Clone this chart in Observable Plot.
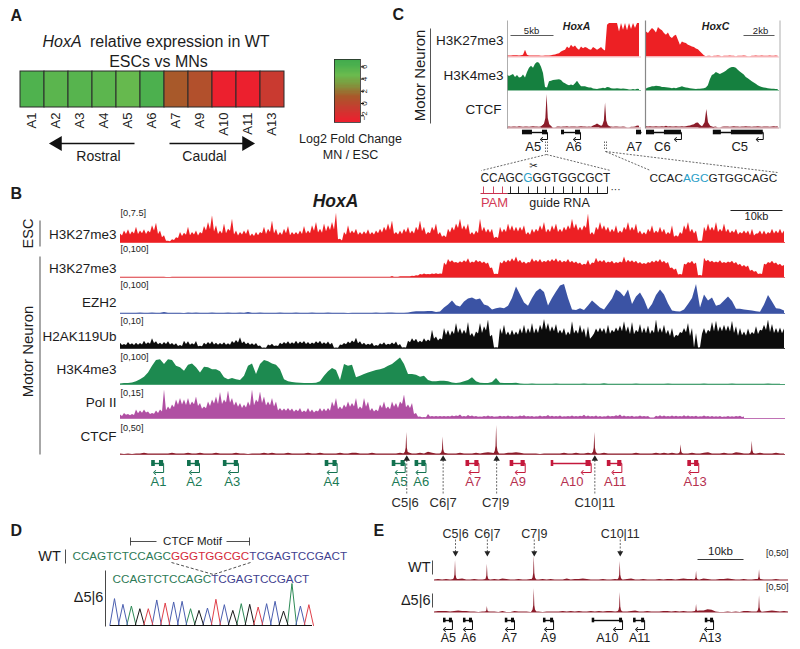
<!DOCTYPE html>
<html><head><meta charset="utf-8">
<style>html,body{margin:0;padding:0;background:#fff}#root{position:relative;width:800px;height:649px;overflow:hidden;background:#fff}#root svg{position:absolute;background:none;max-width:none;overflow:visible}</style>
<script src="https://cdn.jsdelivr.net/npm/d3@7"></script>
<script src="https://cdn.jsdelivr.net/npm/@observablehq/plot@0.6"></script>
</head><body><div id="root"></div>
<script>
// ---------- DATA: panel A ----------
const hoxGenes=["A1","A2","A3","A4","A5","A6","A7","A9","A10","A11","A13"];
const log2FC=[5.9,5.3,5.5,5.2,4.7,6.1,1,0.4,-3,-3,-1];
const colorStops=[-3.1,-1,1,3,4.5,6,7.2];
const colorRange=["#ee1f2e","#c93a30","#a8592a","#7e9a3f","#6aba4e","#4db14e","#3faa4d"];
const legendTicks=[-2,0,2,4,6];
// ---------- DATA: panel B signal: peaks (one sample every 0.77 kb) and the troughs between them ----------
const escK27=[2.1,2.9,3.2,2.7,3.8,2.9,3.2,2.9,4.2,4.8,2.9,1.7,0.3,0.7,1.2,2.5,2.3,3.8,2.5,2.9,2.5,4,5,6.7,4.2,2.9,4.6,3.3,5.8,2.9,2.5,2.9,3.3,2.1,2.5,2.5,3.8,3.3,5.4,3.3,2.5,3.3,4,2.5,2.5,2.9,4,2.9,4.2,5,3.3,4.6,4.2,5,7.3,0.8,2.5,4.2,2.9,3.3,2.5,2.7,3.2,2.5,2.9,3.3,3.8,4.6,5.4,2.5,
2.9,3.3,3.8,2.9,3.8,5.4,3.8,2.5,3.8,4.6,2.5,1.7,3.3,3.8,4.6,5.8,4.2,4.6,2.5,2.9,5.8,3.8,3.3,3.3,1.3,3.8,3.3,4.6,4.2,3.8,3.8,4.2,2.5,3.3,3.3,4.2,5,3.3,4.2,4.6,3.3,3.8,4.2,5.8,4.6,3.8,4.2,7.1,2.5,3.8,5,4.2,3.8,3.3,4.2,2.9,3.8,5,3.8,4.6,2.9,2.5,3.3,4.2,2.9,3.8,3.3,2.5,4.2,1.7,2.5,4.2,5,3.3,2.9,0.3,3.8,4.6,3.8,5,3.3,4.6,3.3,2.9,3.3,2.5,2.9,2.9,3.3,2.1,2.9,2.9,2.5,3.3,2.9,3.3,2.9];
const escK27Troughs=[1.6,2,1.9,2.1,2,2.2,2,2.4,2.9,2,1.2,.3,.2,.5,1,1.5,1.8,1.7,1.9,1.6,2.1,2.9,3.2,2.6,2,2.1,2.2,2.8,1.9,1.6,1.9,2,1.5,1.5,1.7,2.2,2,2.5,2.1,1.7,
1.8,2.2,1.7,1.9,1.9,2,2.1,2.2,2.8,2.4,2.3,2.7,3,3.1,.7,.4,1.8,2.1,2.2,1.8,1.9,2,1.9,1.9,2.2,2.4,2.8,3,2,1.9,
2,2.4,2.1,2.1,2.9,2.7,1.9,2.2,2.8,1.9,1.3,1.2,2.4,2.9,3.5,3.1,3,1.9,1.8,2.2,2.7,2.4,2.3,1,1,2.4,2.5,2.9,2.7,2.6,2.8,1.9,1.8,2.3,2.6,3,2.4,2.5,3,2.5,2.5,2.9,3.2,3.4,2.9,2.9,3.5,1.9,1.8,3,3.1,2.8,2.4,2.5,2.2,2.3,3,2.8,2.9,2.1,1.9,1.9,2.5,2.2,2.3,2.4,1.9,2,1.3,1.3,2,3,2.5,2.1,.3,.3,2.6,2.9,2.8,2.5,2.6,2.5,2.2,2.3,1.9,2.1,2.1,1.7,1.6,2.1,1.9,1.9,2.1,2.1,2.2,2.1];
const mnK27=[1,1,1,1,1,1,1,1,1,1,1,1,0,1,1,1,1,1,1,1,1,1,1,1,1,1,1,1,1,1,1,1,1,1,1,1,1,1,1,1,1,1,1,1,1,1,1,1,1,1,1,1,1,1,1,1,1,1,1,1,1,1,1,1,1,1,1,1,4,1,
3,3,3,5,7,13,15,12,15,16,15,60,75,70,62,66,70,78,65,72,68,65,60,40,14,62,70,72,78,85,72,65,62,78,72,75,68,72,75,78,72,68,75,68,65,60,55,72,60,80,70,72,65,68,62,65,85,72,70,68,62,58,62,68,70,75,68,62,40,35,12,55,62,68,60,8,80,72,68,65,70,62,65,68,62,55,50,48,30,25,15,55,62,68,60,55,50];
const mnK27Troughs=[1,1,1,1,1,1,1,1,1,1,1,0,0,1,1,1,1,1,1,1,1,1,1,1,1,1,1,1,1,1,1,1,1,1,1,1,1,1,1,1,1,1,1,1,1,1,1,1,1,1,1,1,1,1,1,1,1,1,1,1,1,1,1,1,1,1,1,1,1,1,
3,3,3,4,6,10,11,11,13,13,14,50,62,60,58,60,62,58,60,62,58,55,38,12,12,56,60,64,66,62,58,55,60,64,62,60,62,64,66,62,60,62,60,58,55,50,52,50,58,62,62,58,60,56,58,60,60,62,60,56,54,54,58,60,62,60,56,38,30,10,10,52,58,54,7,6,66,62,60,60,58,58,60,56,50,44,42,26,22,13,12,52,58,56,50,46];
const ezh2=[1,1,1,1,1,2,1,1,2,1,1,3,1,1,1,1,0,2,1,2,1,1,1,2,1,1,1,2,1,1,2,1,3,1,1,2,1,1,1,1,2,1,1,1,2,1,1,1,2,1,1,1,2,1,1,1,1,0,1,1,1,1,1,1,2,1,1,2,2,1,
1,1,2,4,6,6,6,7,7,3,5,18,28,42,26,22,38,48,52,45,48,28,24,12,16,18,16,24,50,88,62,35,24,50,72,82,70,25,50,72,92,97,50,12,10,16,10,25,42,30,18,12,30,48,78,70,55,78,30,55,68,45,12,30,60,78,62,32,8,6,5,12,30,50,97,18,62,42,52,24,28,42,55,40,14,14,12,10,8,6,4,28,60,38,16,14,8];
const h2ak=[1.8,1.4,2.1,1.6,1.8,1.7,2.5,2,3.4,2.3,1.8,2.1,2.3,1.7,1.6,1,2.5,2.3,1.6,2.4,0.8,1.8,2.1,2.3,1.8,1.7,2,1.6,2.4,2.8,3.7,2.3,1.9,1.6,1.7,0.9,0.2,1.2,1.5,0.9,1.8,2.1,2.3,2,2.5,2.2,2.4,2.1,1.9,2.3,2.5,2,2.2,1.8,0.2,1.2,1.7,2.2,2.6,3.5,2.3,1.8,1.5,1.8,1,1.6,2,1.5,1.9,2.2,
1.4,.3,2.5,3.4,3.2,2.5,3.4,2.9,6.3,4,3.4,6.9,6.3,6,8.6,6.9,6.3,9,5.2,5.7,8.6,7.5,9.8,4.6,.3,6.9,8,5.7,6.3,5.7,6.9,8,6.9,8.6,6.9,8,10,8.6,7.5,8.3,6.3,6.9,5.7,9.2,6.3,8,6.9,7.5,4,6.7,7.1,6.9,8,6.3,7.1,7.8,9.2,7.5,9,6.3,8.3,7.1,7.8,6.3,9.8,7.1,8,6.3,6.9,4.6,5.5,6.9,8.6,6.9,5.2,.3,6.9,6.3,9,9.4,7.5,8,7.8,9.4,7.5,6.9,5.7,6.7,5.5,7.5,6.3,8,9.8,8.3,6.9,7.1,6.7];
const h2akTroughs=[1,1,1.2,1,1.1,1.2,1.4,1.5,1.7,1.3,1.2,1.4,1.2,1,.7,.7,1.4,1.1,1.2,.6,.6,1.2,1.4,1.2,1.1,1.2,1.1,1.1,1.7,1.9,1.6,1.3,1.1,1,.7,.1,.1,.9,.7,.7,1.3,1.5,1.4,1.5,1.5,1.6,1.4,1.3,1.5,1.6,1.4,1.4,1.2,.1,.1,1,1.3,1.6,2,1.6,1.2,1,1.1,.7,.8,1.2,1,1.2,1.3,.9,
.2,.2,2,2.3,1.9,2,2.2,2.4,3.2,2.6,2.9,4.5,4.2,4.8,5.2,4.8,4.9,4.2,3.8,5,5.2,6,4,.2,.2,4.8,4.5,4.3,4.5,4.6,5,4.9,5.2,5,5.2,6.2,6.3,5.6,5.8,5,5,4.3,4.6,5,4.9,5.2,3.5,3.2,5,5.4,5.5,4.8,4.9,5.4,5.8,5.8,5.6,4.8,4.7,5.4,5.1,5.1,4.8,5.2,5.3,5.3,4.8,4.1,3.5,4.1,5.2,5.4,4.1,.2,.2,4.9,4.8,5.6,5.8,5.6,5.8,5.9,5.7,5.2,4.2,4.4,4.2,4.6,4.8,4.8,6,6.2,5.5,5.2,5.2,5.1];
const k4me3=[2,4,4,6,10,18,27,43,68,89,92,74,92,89,68,62,49,71,76,62,43,64,62,55,55,47,25,18,22,18,15,31,68,76,37,74,89,84,76,71,55,18,10,7,6,5,4,4,4,5,10,31,47,59,52,15,74,68,71,25,31,37,43,47,52,55,59,68,74,86,
98,74,37,37,34,27,31,15,10,10,12,12,10,6,4,6,10,15,25,10,5,4,4,7,22,5,4,4,4,5,2,1,1,2,1,1,1,1,1,2,1,1,1,1,1,1,2,1,1,1,1,3,1,1,1,1,1,1,1,2,1,1,1,1,1,1,1,2,1,1,1,1,1,1,1,1,2,1,1,1,1,1,1,2,1,1,1,1,1,1,1,1,2,1,1,1];
const polII=[1.7,2.5,2,2,4.2,3.7,4.2,3.3,2.5,3.7,4.2,14.2,5.8,6.7,9.2,10,9.2,10,8.3,10.8,7.5,5.8,8.3,9.2,10.8,13,9.2,13.7,10,8.3,7.5,6.7,8.3,14.2,9.2,13.3,10.8,8.3,10,8.3,5,4.7,5,4.7,4.2,5,3.7,5,4.2,3.7,5,4.7,5,8.3,10,5.8,6.7,8.3,7.5,10,5.8,10,8.3,5,4.2,6.7,8.3,5.8,8.3,7.5,
8.3,11.7,6.7,7.5,2.5,.8,.5,2,1,1,1,1,1,1.2,1.3,1.7,1,1.5,1.2,1,.8,1,1.2,1,.8,1.1,1,1.3,1,.9,1.2,1.4,1,1,.9,1.3,1,1.5,1.1,1,1.2,.9,1,1.3,1,1.1,1.6,1.2,1,1.3,1,.9,1.2,1,1.4,1.7,1.2,1,1.1,.9,1.3,1,1,.3,1.1,1.4,1.2,1,1.3,1.1,1,1.4,1.2,1,1.1,.9,1.2,1,1,.9,1,.8,1,.9,1,1.1,.8];
const polIITroughs=[1,1.6,1.4,1.5,2.4,2.6,2.7,2,2.1,2.5,3.2,3.9,4.4,5.4,6.6,6.8,6.5,6.4,6.9,6,4.6,4.9,6,7.2,7,7,7.8,7.6,6.2,5.6,5,5.3,6,6.4,7.9,7.5,6.2,6.4,5.8,3.8,3.6,3.6,3.6,3.1,3.4,2.9,3,3,2.8,3.2,3.3,3.4,3.6,5.8,4.4,4.4,5.2,5.6,5.8,4.4,4.6,5.6,3.6,3.2,3.4,5,4.6,4.4,5.6,5,
7,5.4,5,2,.6,.4,.4,.7,.7,.7,.7,.8,.8,.9,1,.7,.8,.9,.7,.6,.6,.8,.7,.6,.7,.8,.8,.7,.6,.8,.9,.7,.7,.6,.8,.7,.9,.8,.7,.8,.6,.7,.8,.7,.8,.9,.8,.7,.8,.6,.6,.8,.7,.9,1,.8,.7,.7,.6,.8,.7,.7,.2,.2,.8,.8,.7,.8,.8,.7,.8,.8,.7,.7,.6,.7,.7,.6,.6,.6,.5,.6,.6,.6,.7,.5];
const ctcfB=[1,0,1,0,1,1,2,1,1,1,1,1,1,2,1,1,1,2,1,1,2,1,1,1,2,1,1,1,1,2,1,1,0,1,1,1,2,1,2,1,1,1,2,1,1,1,1,2,1,1,2,1,1,1,1,2,1,1,2,2,1,1,1,2,1,1,1,1,1,1,
2,1,3,1,1,2,1,4,2,1,1,2,1,1,1,2,1,1,1,2,1,2,3,2,1,1,1,2,2,3,2,1,1,1,1,0,1,1,1,1,1,2,1,1,2,1,1,2,1,1,1,2,1,1,1,1,1,1,1,2,1,1,1,1,2,1,2,1,2,1,1,1,1,2,1,1,2,3,1,1,1,2,1,1,3,2,1,1,1,1,2,1,1,1,2,1,1];
const ctcfBPeakKb=[55.1,62.1,72.4,91.3,107.9,121.6];
const ctcfBPeakVal=[38,30,50,38,17,23];
// ---------- DATA: panel B genes ----------
const bGeneNames=["A1","A2","A3","A4","A5","A6","A7","A9","A10","A11","A13"];
const bGeneStart=[6,12.9,19.8,39.4,52.3,56.7,66.5,75,82.9,93.7,109.2];
const bGeneEnd=[8.3,15.2,22.7,41.7,54.8,58.8,69,77.9,90.6,96.5,111.3];
const bGeneLabel=[7.3,14.2,21.5,40.6,53.7,57.9,67.9,76.5,86.9,95.2,110.6];
const bSiteNames=["C5|6","C6|7","C7|9","C10|11"];
const bSiteKb=[55.1,62.1,72.4,91.3];
const bSiteLabelKb=[54.8,62.1,72.2,91.3];
// ---------- DATA: panel C signal (one sample every 2 px of each locus) ----------
const cK27A=[3,3,3,4,4,4,3,4,5,20,5,3,3,3,3,3,3,2,2,3,3,3,4,5,6,8,10,15,18,20,30,25,35,28,33,25,20,30,25,28,26,22,20,28,25,20,24,28,22,18,95,100,100,100,100,100,75,100,80,100,78,100,82,100,85,100,100];
const cK27C=[75,70,78,85,80,72,88,82,78,70,65,72,60,55,62,65,50,35,45,42,40,35,33,30,28,24,22,16,10,4,1,2,2,1,2,2,3,2,1,2,2,2,3,2,2,1,2,2,2,3,2,1,1,2,2,3,2,2,3,2,2,2,3,2,2,3,2];
const cK4A=[50,45,48,52,42,48,40,42,50,40,58,72,78,72,85,90,88,75,55,10,8,28,30,32,33,34,35,32,25,22,18,15,18,15,22,30,20,12,12,12,10,8,8,5,4,3,5,6,7,6,10,9,6,5,5,6,5,4,5,4,3,2,2,3,2,4,3];
const cK4C=[5,8,10,12,12,14,13,12,10,10,9,8,7,6,7,6,8,10,12,10,8,7,6,5,4,3,4,4,5,6,8,15,35,48,52,58,55,52,55,58,62,68,72,74,74,72,65,60,55,50,42,38,33,28,24,20,15,12,10,8,7,6,5,4,4,3,3];
const cCtcfA=[2,3,2,3,3,2,4,3,2,3,3,2,3,4,3,3,2,4,8,15,9,3,2,0,0,3,3,2,3,3,4,2,3,3,3,2,3,4,3,3,2,3,2,6,8,12,8,5,3,3,2,3,3,2,3,3,2,2,3,2,0,0,2,2,3,6,5];
const cCtcfC=[4,3,4,3,3,4,3,3,4,3,5,3,4,3,3,4,3,3,4,3,4,5,6,8,10,14,15,8,4,3,3,2,0,0,2,3,0,0,2,3,3,3,2,3,4,3,3,2,3,3,4,3,3,2,3,3,4,3,2,3,3,3,2,3,4,3,4];
const cPeakAKb=[4.6,11.4],cPeakAVal=[100,75];
const cPeakCKb=[3.9],cPeakCVal=[55];
const cNamesA=["A5","A6","A7"],cStartA=[1.74,6.28,15],cEndA=[4.65,8.49,15.58],cExonLA=[1.16,.35,.58],cExonRA=[.58,.58,0],cLabelA=[3,7.7,14.75];
const cNamesC=["C6","C5"],cStartC=[0,4.32],cEndC=[2.26,7.55],cExonLC=[.52,.52],cExonRC=[1.1,2.06],cLabelC=[1.03,6.03];
// ---------- DATA: panel D ----------
const seqGreen="CCAGTCTCCAGC",seqRed="GGGTGGCGC",seqNavy="TCGAGTCCGACT";
const chromBases="CCAGTCTCCAGCTCGAGTCCGACT".split("");
const chromHeights=[80,63,58,50,50,76,67,70,72,50,45,52,78,62,45,65,63,55,65,72,43,125,58,62];
const baseColors={A:"#2e8b57",C:"#4b5fb0",G:"#1a1a1a",T:"#e0404a"};
// ---------- DATA: panel E (one sample every 0.87 kb) ----------
const eWT=[1,2,1,2,1,2,2,3,1,1,2,1,1,2,1,2,1,3,2,1,1,2,1,1,2,1,1,2,1,2,1,1,1,3,1,2,2,3,2,1,1,1,2,1,1,2,1,1,2,3,1,1,2,1,1,1,2,1,2,2,1,2,3,2,2,1,1,3,2,1,1,2,2,3,2,1,1,2,1,1,2,2,1,1,1,2,1,1,1];
const eDel=[1,2,2,2,1,2,3,2,2,1,1,0,1,1,1,1,0,2,0,0,2,1,1,1,0,1,1,0,1,1,1,1,2,1,2,1,2,1,1,2,1,2,1,2,2,1,2,1,1,2,3,1,1,2,1,1,1,2,2,1,2,1,2,1,1,2,3,3,5,4,1,0,0,1,0,1,0,2,2,1,1,0,1,2,3,2,1,2,1];
const ePeakKb=[4.57,11.5,21.7,40.4,57,70.7];
const eWTPeak=[37,30,46,35,17,20];
const eDelPeak=[0,11,44,37,15,31];
const eSites=["C5|6","C6|7","C7|9","C10|11"];
const eSiteKb=[4.57,11.5,21.7,40.4];
const eGeneNames=["A5","A6","A7","A9","A10","A11","A13"];
const eGeneStart=[1.96,6.3,15.4,23.7,34.3,43.3,58.9];
const eGeneEnd=[3.9,8.26,17.4,25.9,40.9,45.7,60.7];
const eGeneLabel=[3,7.4,16.3,24.8,37.6,44.6,60];

// ---------- helpers ----------
const FONT="'Liberation Sans',Arial,sans-serif";
const root=document.getElementById("root");
function put(opts,left,top){
  const el=Plot.plot({style:{fontFamily:FONT,background:"none",overflow:"visible"},...opts});
  el.style.position="absolute";el.style.left=left+"px";el.style.top=top+"px";
  el.style.maxWidth="none";
  root.appendChild(el);
}
function track({left,baseline,width,height,values,troughs=[],step,max,color,line,lineW=1,peakKb=[],peakVal=[],peakW=.8,kbMax}){
  const rows=values.flatMap((v,i)=>{
    const r=[{k:i*step,v}];
    if(troughs[i]!==undefined&&i<values.length-1)r.push({k:(i+.5)*step,v:troughs[i]});
    return r;});
  const peaks=peakKb.flatMap((p,j)=>{const h=peakVal[j];if(!h)return [];return [
    {k:p-peakW,v:0,z:j},{k:p-peakW*.45,v:h*.1,z:j},{k:p-peakW*.2,v:h*.28,z:j},{k:p,v:h,z:j},{k:p+peakW*.2,v:h*.28,z:j},{k:p+peakW*.45,v:h*.1,z:j},{k:p+peakW,v:0,z:j}];});
  put({width,height,margin:0,
    x:{domain:[0,kbMax??(values.length-1)*step],axis:null},
    y:{domain:[0,max],axis:null},
    marks:[
      Plot.areaY(rows,{x:"k",y:"v",fill:color,clip:true}),
      Plot.areaY(peaks,{x:"k",y:"v",z:"z",fill:color}),
      Plot.ruleY([0],{stroke:line||color,strokeWidth:lineW,strokeOpacity:.8})
    ]},left,baseline-height);
}
function genes({left,width,kbMax,top,height,list,geneY,half,arrowDY,arrowPx,labelY,labelSize,extra=[]}){
  const k=kbMax/width;
  put({width,height,margin:0,x:{domain:[0,kbMax],axis:null},y:{domain:[top,top+height],range:[0,height],axis:null},
   marks:[
    ...list.flatMap(g=>[
      Plot.link([g],{x1:"s",x2:"e",y1:()=>geneY,y2:()=>geneY,stroke:g.c,strokeWidth:1.4}),
      Plot.rect([g],{x1:"s",x2:d=>d.s+d.el,y1:()=>geneY-half,y2:()=>geneY+half,fill:g.c}),
      ...(g.er?[Plot.rect([g],{x1:d=>d.e-d.er,x2:"e",y1:()=>geneY-half,y2:()=>geneY+half,fill:g.c}),
        Plot.link([g],{x1:"e",x2:"e",y1:()=>geneY,y2:()=>geneY+arrowDY,stroke:g.c,strokeWidth:1}),
        Plot.link([g],{x1:"e",x2:d=>d.e-arrowPx*k,y1:()=>geneY+arrowDY,y2:()=>geneY+arrowDY,stroke:g.c,strokeWidth:1,markerEnd:"arrow"})]:[]),
      Plot.text([g],{x:"l",y:()=>labelY,text:"n",fill:g.lc,fontSize:labelSize})
    ]),
    ...extra
   ]},left,top);
}
const ctx=document.createElement("canvas").getContext("2d");
function seqMarks(segs,x0,x1,y,size){
  const full=segs.map(s=>s.t).join("");
  ctx.font=`${size}px 'Liberation Sans'`;
  const s=size*(x1-x0)/ctx.measureText(full).width;
  ctx.font=`${s}px 'Liberation Sans'`;
  let pre="";
  return segs.map(g=>{const px=x0+ctx.measureText(pre).width;pre+=g.t;return Plot.text([g],{x:()=>px,y:()=>y,text:"t",fill:g.c,fontSize:s,textAnchor:"start"});});
}

// ---------- panel A ----------
const colorOpts={type:"linear",domain:colorStops,range:colorRange,interpolate:"rgb"};
put({width:267,height:60,marginTop:0,marginLeft:0,marginRight:0,marginBottom:24,
  x:{domain:hoxGenes,padding:0,label:null},color:colorOpts,
  marks:[
    Plot.cell(hoxGenes.map((g,i)=>({g,v:log2FC[i]})),{x:"g",fill:"v",stroke:"#2a2a2a",strokeWidth:1}),
    Plot.axisX({tickRotate:-90,tickSize:0,tickPadding:5,fontSize:13,label:null,fill:"#222",dx:-1})
  ]},18,71);
const levels=d3.range(-3.1,7.2,.2);
put({width:52,height:63,marginTop:0,marginBottom:0,marginLeft:0,marginRight:26,
  x:{domain:[0,1],axis:null},y:{domain:[-3.1,7.2]},color:colorOpts,
  marks:[
    Plot.rect(levels,{x1:0,x2:1,y1:d=>d,y2:d=>Math.min(d+.32,7.2),fill:d=>d,shapeRendering:"crispEdges"}),
    Plot.frame({stroke:"#2a2a2a",strokeWidth:.8}),
    Plot.axisY({anchor:"right",ticks:legendTicks,tickSize:3,tickRotate:-90,tickPadding:3,fontSize:8,label:null,fill:"#222"})
  ]},334,59);

// ---------- panel B tracks ----------
const KB=128/665*4; // kb per sample
const bw=665;
track({left:120,baseline:242,width:bw,height:30,values:escK27,troughs:escK27Troughs,step:KB,max:7.5,color:"#ed2024",kbMax:128});
track({left:120,baseline:277,width:bw,height:24,values:mnK27,troughs:mnK27Troughs,step:KB,max:100,color:"#ed2024",line:"#d9434a",kbMax:128});
track({left:120,baseline:313,width:bw,height:30,values:ezh2,step:KB,max:100,color:"#3b53a4",kbMax:128});
track({left:120,baseline:348,width:bw,height:29,values:h2ak,troughs:h2akTroughs,step:KB,max:10,color:"#0c0c0c",kbMax:128});
track({left:120,baseline:383.5,width:bw,height:27,values:k4me3,step:KB,max:100,color:"#1d8a50",kbMax:128});
track({left:120,baseline:418,width:bw,height:30,values:polII,troughs:polIITroughs,step:KB,max:15,color:"#b04fa3",kbMax:128});
track({left:120,baseline:454,width:bw,height:29,values:ctcfB,step:KB,max:50,color:"#8c1c2a",peakKb:ctcfBPeakKb,peakVal:ctcfBPeakVal,peakW:.6,kbMax:128});
const GREEN="#12714f",RED="#c4183c";
genes({left:120,width:bw,kbMax:128,top:455,height:55,geneY:463,half:3,arrowDY:9,arrowPx:9,labelY:481,labelSize:13,
  list:bGeneNames.map((n,i)=>({n,s:bGeneStart[i],e:bGeneEnd[i],el:n==="A10"?.5:.7,er:n==="A10"?1:.8,l:bGeneLabel[i],c:i<6?GREEN:RED,lc:i<6?"#1b7a55":"#b6304f"})),
  extra:[
    Plot.ruleX(bSiteKb,{x:d=>d,y1:()=>460,y2:()=>494,stroke:"#444",strokeWidth:.8,strokeDasharray:"2,1.5"}),
    Plot.dot(bSiteKb,{x:d=>d,y:()=>458.5,symbol:"triangle",r:2.4,fill:"#222"}),
    Plot.text(bSiteNames,{x:(d,i)=>bSiteLabelKb[i],y:()=>502,text:d=>d,fontSize:13,fill:"#2a2a2a"})
  ]});

// ---------- panel C tracks ----------
const stepA=2/8.6,stepC=2/15.5;
track({left:507,baseline:56.5,width:134,height:33.5,values:cK27A,step:stepA,max:100,color:"#ed2024",line:"#e8747a",lineW:.6,kbMax:15.58});
track({left:646,baseline:56.5,width:133,height:33.5,values:cK27C,step:stepC,max:100,color:"#ed2024",line:"#e8747a",lineW:.6,kbMax:8.6});
track({left:507,baseline:90,width:134,height:31,values:cK4A,step:stepA,max:100,color:"#15803f",lineW:.6,kbMax:15.58});
track({left:646,baseline:90,width:133,height:31,values:cK4C,step:stepC,max:100,color:"#15803f",lineW:.6,kbMax:8.6});
track({left:507,baseline:127,width:134,height:33.5,values:cCtcfA,step:stepA,max:100,color:"#8c1c2a",lineW:.6,peakKb:cPeakAKb,peakVal:cPeakAVal,peakW:.7,kbMax:15.58});
track({left:646,baseline:127,width:133,height:33.5,values:cCtcfC,step:stepC,max:100,color:"#8c1c2a",lineW:.6,peakKb:cPeakCKb,peakVal:cPeakCVal,peakW:.55,kbMax:8.6});
genes({left:507,width:134,kbMax:15.58,top:126,height:28,geneY:132,half:2.3,arrowDY:7,arrowPx:6,labelY:146,labelSize:13,
  list:cNamesA.map((n,i)=>({n,s:cStartA[i],e:cEndA[i],el:cExonLA[i],er:cExonRA[i],l:cLabelA[i],c:"#0c0c0c",lc:"#1a1a1a"}))});
genes({left:646,width:133,kbMax:8.6,top:126,height:28,geneY:132,half:2.3,arrowDY:7,arrowPx:6,labelY:146,labelSize:13,
  list:cNamesC.map((n,i)=>({n,s:cStartC[i],e:cEndC[i],el:cExonLC[i],er:cExonRC[i],l:cLabelC[i],c:"#0c0c0c",lc:"#1a1a1a"}))});

// ---------- panel D chromatogram ----------
const peakHalf=.55;
const chromRows=chromBases.flatMap((b,i)=>[{i:i-peakHalf,h:0,id:i,b},{i,h:chromHeights[i],id:i,b},{i:i+peakHalf,h:0,id:i,b}]);
put({width:202,height:42,margin:0,x:{domain:[-.473,23.43],axis:null},y:{domain:[0,125],axis:null},
  marks:[
    ...Object.keys(baseColors).map(b=>Plot.line(chromRows.filter(d=>d.b===b),{x:"i",y:"h",z:"id",stroke:baseColors[b],strokeWidth:1})),
    Plot.ruleY([0],{stroke:"#111",strokeWidth:1})
  ]},110,583);

// ---------- panel E ----------
const eStep=77/88;
track({left:434,baseline:580,width:354,height:27,values:eWT,step:eStep,max:50,color:"#8c1c2a",lineW:.6,peakKb:ePeakKb,peakVal:eWTPeak,peakW:.6,kbMax:77});
track({left:434,baseline:612,width:354,height:27,values:eDel,step:eStep,max:50,color:"#8c1c2a",lineW:.6,peakKb:ePeakKb,peakVal:eDelPeak,peakW:.6,kbMax:77});
put({width:354,height:30,margin:0,x:{domain:[0,77],axis:null},y:{domain:[527,557],range:[0,30],axis:null},
  marks:[
    Plot.text(eSites,{x:(d,i)=>eSiteKb[i],y:()=>533,text:d=>d,fontSize:12.5,fill:"#2a2a2a"}),
    Plot.ruleX(eSiteKb,{x:d=>d,y1:()=>539.5,y2:()=>552,stroke:"#444",strokeWidth:.8,strokeDasharray:"2,1.5"}),
    Plot.dot(eSiteKb,{x:d=>d,y:()=>552.5,symbol:"triangle",r:2.2,fill:"#222",rotate:180})
  ]},434,527);
genes({left:434,width:354,kbMax:77,top:612,height:35,geneY:620,half:2.3,arrowDY:9,arrowPx:8,labelY:637,labelSize:12.5,
  list:eGeneNames.map((n,i)=>({n,s:eGeneStart[i],e:eGeneEnd[i],el:.55,er:.65,l:eGeneLabel[i],c:"#0c0c0c",lc:"#1a1a1a"}))});

// ---------- annotation layer: panel letters, labels, scale bars, guides ----------
const labels=[
 // letters
 {t:"A",x:10,y:15,s:16,w:"bold",a:"start"},{t:"B",x:10,y:193,s:16,w:"bold",a:"start"},{t:"C",x:392,y:14,s:16,w:"bold",a:"start"},{t:"D",x:10,y:530,s:16,w:"bold",a:"start"},{t:"E",x:373,y:530,s:16,w:"bold",a:"start"},
 // A
 {t:"HoxA",x:42,y:41,s:16,i:"italic",a:"start"},{t:"relative expression in WT",x:89.5,y:41,s:16,a:"start"},{t:"ESCs vs MNs",x:158,y:61,s:16},
 {t:"Rostral",x:98,y:156,s:14},{t:"Caudal",x:204,y:156,s:14},
 {t:"Log2 Fold Change",x:350,y:138,s:12.5,ls:"-0.5px"},{t:"MN / ESC",x:350,y:154,s:12.5,ls:"-0.5px"},
 // B
 {t:"HoxA",x:335,y:200.5,s:17.5,w:"bold",i:"italic"},{t:"10kb",x:756,y:216,s:11},
 {t:"ESC",x:28,y:233,s:14.5,r:-90},{t:"Motor Neuron",x:28,y:351,s:15,r:-90},
 {t:"H3K27me3",x:116,y:234,s:13.5,a:"end"},{t:"H3K27me3",x:116,y:268,s:13.5,a:"end"},{t:"EZH2",x:116,y:302,s:13.5,a:"end"},{t:"H2AK119Ub",x:116,y:336,s:13.5,a:"end"},{t:"H3K4me3",x:116,y:369,s:13.5,a:"end"},{t:"Pol II",x:116,y:402,s:13.5,a:"end"},{t:"CTCF",x:116,y:436,s:13.5,a:"end"},
 {t:"[0,7.5]",x:120,y:212.5,s:9.2,a:"start"},{t:"[0,100]",x:120,y:248.5,s:9.2,a:"start"},{t:"[0,100]",x:120,y:284.5,s:9.2,a:"start"},{t:"[0,10]",x:120,y:320.5,s:9.2,a:"start"},{t:"[0,100]",x:120,y:356.5,s:9.2,a:"start"},{t:"[0,15]",x:120,y:392.5,s:9.2,a:"start"},{t:"[0,50]",x:120,y:428,s:9.2,a:"start"},
 // C
 {t:"Motor Neuron",x:420,y:75,s:15,r:-90},{t:"H3K27me3",x:503,y:40,s:13.5,a:"end"},{t:"H3K4me3",x:503,y:75,s:13.5,a:"end"},{t:"CTCF",x:501,y:109,s:13.5,a:"end"},
 {t:"5kb",x:531,y:30,s:9.5},{t:"2kb",x:760,y:30,s:9.5},{t:"HoxA",x:576,y:26,s:10.5,w:"bold",i:"italic"},{t:"HoxC",x:715,y:26,s:10.5,w:"bold",i:"italic"},
 {t:"✂",x:533,y:165.5,s:10,f:"'DejaVu Sans'"},{t:"···",x:615,y:189,s:10},
 {t:"PAM",x:494,y:202,s:13,c:"#d33a55"},{t:"guide RNA",x:559,y:202,s:12.5},
 // D
 {t:"CTCF Motif",x:192,y:541,s:11.5},{t:"WT",x:49,y:556,s:14.5},{t:"Δ5|6",x:88,y:597,s:14.5},
 // E
 {t:"10kb",x:720,y:551,s:11.5},{t:"[0,50]",x:788,y:553,s:9,a:"end"},{t:"[0,50]",x:788,y:587,s:9,a:"end"},
 {t:"WT",x:430,y:567,s:14.5,a:"end"},{t:"Δ5|6",x:430,y:600,s:14.5,a:"end"}
];
const rules=[
 // A arrows
 {x1:60,y1:143,x2:134,y2:143,w:1.6,c:"#111"},{x1:169,y1:143,x2:243,y2:143,w:1.6,c:"#111"},
 // B bars and scale
 {x1:39.5,y1:220,x2:39.5,y2:246,w:1.5,c:"#8a8a8a"},{x1:39.5,y1:256,x2:39.5,y2:454,w:1.5,c:"#8a8a8a"},{x1:730,y1:210,x2:782,y2:210,w:1,c:"#222"},
 // C frames and scale bars
 {x1:430,y1:28,x2:430,y2:123,w:1,c:"#555"},{x1:507,y1:20,x2:507,y2:128,w:.8,c:"#999"},{x1:645,y1:20,x2:645,y2:128,w:1.2,c:"#888"},{x1:779.5,y1:20,x2:779.5,y2:128,w:.8,c:"#999"},
 {x1:510,y1:35,x2:553,y2:35,w:.8,c:"#333"},{x1:743,y1:35,x2:774,y2:35,w:.8,c:"#333"},
 // C guides
 {x1:545,y1:141,x2:545,y2:153,w:.8,c:"#444",d:"1.5,1.5"},{x1:547,y1:141,x2:547,y2:153,w:.8,c:"#444",d:"1.5,1.5"},
 {x1:604,y1:141,x2:604,y2:150,w:.8,c:"#444",d:"1.5,1.5"},{x1:606,y1:141,x2:606,y2:150,w:.8,c:"#444",d:"1.5,1.5"},
 {x1:546,y1:154,x2:481,y2:170,w:.8,c:"#444",d:"2,1.5"},{x1:546,y1:154,x2:610,y2:170,w:.8,c:"#444",d:"2,1.5"},
 {x1:605,y1:151,x2:650,y2:170,w:.8,c:"#444",d:"2,1.5"},{x1:605,y1:151,x2:777,y2:172,w:.8,c:"#444",d:"2,1.5"},
 // C guide RNA ruler
 {x1:480,y1:193,x2:507,y2:193,w:1,c:"#c9314f"},{x1:507,y1:193,x2:607,y2:193,w:1,c:"#111"},
 ...[483,493,502].map(x=>({x1:x,y1:186,x2:x,y2:193,w:.9,c:"#c9314f"})),
 ...[510,518,528,537,545,553,563,572,580,588,597,607].map(x=>({x1:x,y1:186,x2:x,y2:193,w:.9,c:"#111"})),
 // D
 {x1:130,y1:541,x2:156,y2:541,w:.8,c:"#222"},{x1:226,y1:541,x2:249,y2:541,w:.8,c:"#222"},{x1:130,y1:537,x2:130,y2:545,w:.8,c:"#222"},{x1:249,y1:537,x2:249,y2:545,w:.8,c:"#222"},
 {x1:65,y1:549,x2:65,y2:563,w:.8,c:"#222"},{x1:105,y1:570,x2:105,y2:626,w:.9,c:"#333"},
 {x1:171,y1:562,x2:213,y2:574,w:.8,c:"#222",d:"3,2"},{x1:250,y1:562,x2:213,y2:574,w:.8,c:"#222",d:"3,2"},
 // E
 {x1:697,y1:559,x2:743,y2:559,w:.9,c:"#222"},{x1:432,y1:560,x2:432,y2:574,w:.8,c:"#222"},{x1:432,y1:593,x2:432,y2:607,w:.8,c:"#222"}
];
put({width:800,height:649,margin:0,x:{domain:[0,800],range:[0,800],axis:null},y:{domain:[0,649],range:[0,649],axis:null},
 marks:[
  ...rules.map(r=>Plot.link([r],{x1:"x1",y1:"y1",x2:"x2",y2:"y2",stroke:r.c,strokeWidth:r.w,strokeDasharray:r.d})),
  Plot.dot([{x:57,y:143,r:-90},{x:246,y:143,r:90}],{x:"x",y:"y",rotate:"r",symbol:"triangle",r:5.5,fill:"#111"}),
  ...labels.map(d=>Plot.text([d],{x:"x",y:"y",text:"t",fontSize:d.s,fontWeight:d.w,fontStyle:d.i,textAnchor:d.a||"middle",rotate:d.r,fill:d.c||"#1c1c1c",fontFamily:d.f||FONT,style:d.ls?{letterSpacing:d.ls}:undefined})),
  ...seqMarks([{t:"CCAGC",c:"#222"},{t:"G",c:"#2aa0c8"},{t:"GGTGGCGCT",c:"#222"}],480,610,178,12),
  ...seqMarks([{t:"CCAC",c:"#222"},{t:"AGC",c:"#2aa0c8"},{t:"GTGGCAGC",c:"#222"}],649,777,178,12),
  ...seqMarks([{t:seqGreen,c:"#2d7a56"},{t:seqRed,c:"#d42a3a"},{t:seqNavy,c:"#3f3f8f"}],72,347,556,11.5),
  ...seqMarks([{t:seqGreen,c:"#2d7a56"},{t:seqNavy,c:"#3f3f8f"}],112,309,579,11.5)
 ]},0,0);
</script></body></html>
